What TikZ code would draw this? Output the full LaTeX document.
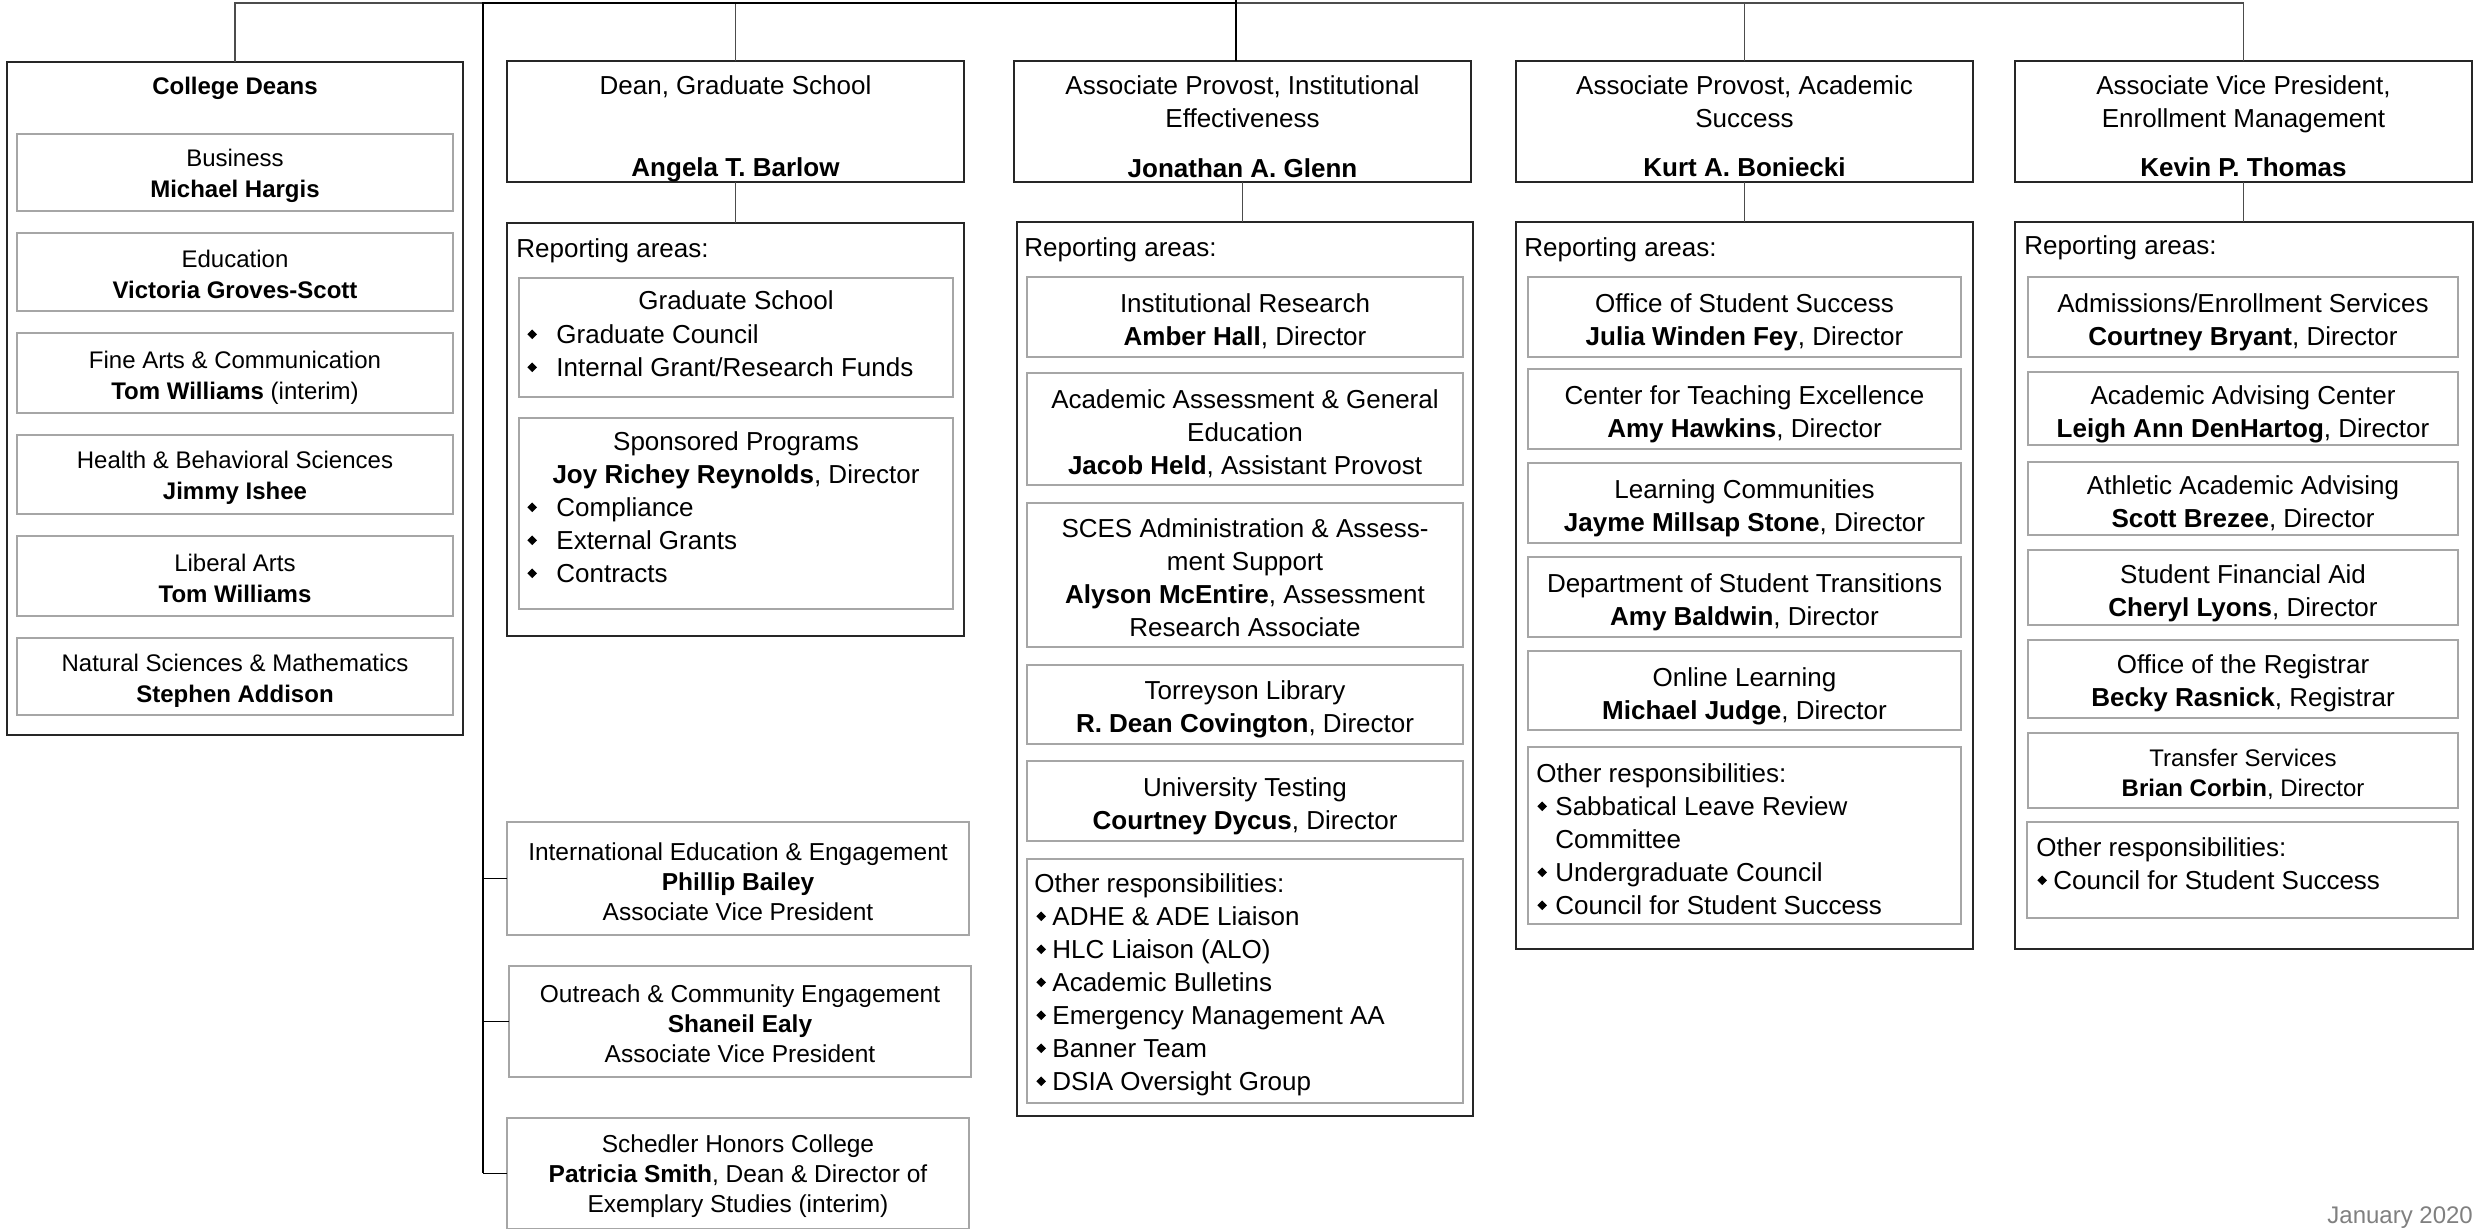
\documentclass[tikz,border=0pt]{standalone}
\usepackage{fontspec}
\usepackage{graphicx}
\setmainfont{Liberation Sans}
\newcommand\fsA{\fontsize{13}{16.5}\selectfont}
\newcommand\fsB{\fontsize{12.25}{15}\selectfont}
\newcommand\fsC{\fontsize{12}{15.5}\selectfont}
\newcommand\fsT{\fontsize{12}{15}\selectfont}
\newcommand\dbul{\raisebox{2.3pt}{\rotatebox{45}{\rule{3.4pt}{3.4pt}}}}
\newcommand\bltab[1]{\makebox[#1][l]{\dbul}}
\newcommand\bx[6]{\node[#1, minimum width={(#5-#3)*0.5pt}, minimum height={(#6-#4)*0.5pt}] (#2) at ({(#3+#5)/2},{(#4+#6)/2}) {};}
\newcommand\tc[5][]{\node[tcen,#1] (#2) at (#3,#4) {\strut #5};}
\newcommand\tlft[5][]{\node[tleft,#1] (#2) at (#3,#4) {\strut #5};}
\tikzset{
 obox/.style={draw=black!85, line width=0.65pt, inner sep=0pt, outer sep=0pt},
 ibox/.style={draw=black!35, line width=0.65pt, inner sep=0pt, outer sep=0pt},
 conn/.style={draw=black!70, line width=0.65pt},
 rootln/.style={draw=black, line width=0.75pt},
 tcen/.style={anchor=north, align=center, inner sep=0pt, font=\fsA},
 tleft/.style={anchor=north west, align=left, inner sep=0pt, font=\fsA},
}
\begin{document}
\begin{tikzpicture}[x=0.5pt,y=-0.5pt]
\path[fill=white] (0,0) rectangle (2492,1230);
\useasboundingbox (0,0) rectangle (2492,1230);

% ---------- College Deans ----------
\bx{obox}{CD}{7}{62}{463}{735}
\tc[font=\fsC]{CDt}{235}{72.9}{\textbf{College Deans}}
\bx{ibox}{CD1}{17}{134}{453}{211}
\tc[font=\fsC]{CD1t}{235}{144.9}{Business\\\textbf{Michael Hargis}}
\bx{ibox}{CD2}{17}{233}{453}{311}
\tc[font=\fsC]{CD2t}{235}{244.9}{Education\\\textbf{Victoria Groves-Scott}}
\bx{ibox}{CD3}{17}{333}{453}{413}
\tc[font=\fsC]{CD3t}{235}{345.9}{Fine Arts \& Communication\\\textbf{Tom Williams} (interim)}
\bx{ibox}{CD4}{17}{435}{453}{514}
\tc[font=\fsC]{CD4t}{235}{445.9}{Health \& Behavioral Sciences\\\textbf{Jimmy Ishee}}
\bx{ibox}{CD5}{17}{536}{453}{616}
\tc[font=\fsC]{CD5t}{235}{548.9}{Liberal Arts\\\textbf{Tom Williams}}
\bx{ibox}{CD6}{17}{638}{453}{715}
\tc[font=\fsC]{CD6t}{235}{649.4}{Natural Sciences \& Mathematics\\\textbf{Stephen Addison}}

% ---------- Dean, Graduate School ----------
\bx{obox}{DG}{507}{61}{964}{182}
\tc{DGt}{735.5}{71.2}{Dean, Graduate School\\[24.5pt]\textbf{Angela T. Barlow}}
\bx{obox}{DGR}{507}{223}{964}{636}
\tlft{DGRt}{516}{234.2}{Reporting areas:}
\bx{ibox}{DG1}{519}{278}{953}{397}
\tc{DG1t}{736}{286.2}{Graduate School}
\tlft{DG1b}{527}{320.2}{\bltab{14.5pt}Graduate Council\\\bltab{14.5pt}Internal Grant/Research Funds}
\bx{ibox}{DG2}{519}{418}{953}{609}
\tc{DG2t}{736}{427.2}{Sponsored Programs\\\textbf{Joy Richey Reynolds}, Director}
\tlft{DG2b}{527}{493.2}{\bltab{14.5pt}Compliance\\\bltab{14.5pt}External Grants\\\bltab{14.5pt}Contracts}

% ---------- Institutional Effectiveness ----------
\bx{obox}{IE}{1014}{61}{1471}{182}
\tc{IEt}{1242.5}{71.2}{Associate Provost, Institutional\\Effectiveness\\[8.5pt]\textbf{Jonathan A. Glenn}}
\bx{obox}{IER}{1017}{222}{1473}{1116}
\tlft{IERt}{1024}{233.2}{Reporting areas:}
\bx{ibox}{IE1}{1027}{277}{1463}{357}
\tc{IE1t}{1245}{289.2}{Institutional Research\\\textbf{Amber Hall}, Director}
\bx{ibox}{IE2}{1027}{373}{1463}{485}
\tc{IE2t}{1245}{385.2}{Academic Assessment \& General\\Education\\\textbf{Jacob Held}, Assistant Provost}
\bx{ibox}{IE3}{1027}{503}{1463}{647}
\tc{IE3t}{1245}{514.2}{SCES Administration \& Assess-\\ment Support\\\textbf{Alyson McEntire}, Assessment\\Research Associate}
\bx{ibox}{IE4}{1027}{665}{1463}{744}
\tc{IE4t}{1245}{676.2}{Torreyson Library\\\textbf{R. Dean Covington}, Director}
\bx{ibox}{IE5}{1027}{761}{1463}{841}
\tc{IE5t}{1245}{773.2}{University Testing\\\textbf{Courtney Dycus}, Director}
\bx{ibox}{IE6}{1027}{859}{1463}{1103}
\tlft{IE6t}{1034}{869.2}{Other responsibilities:\\
\hspace{1pt}\bltab{8pt}ADHE \& ADE Liaison\\
\hspace{1pt}\bltab{8pt}HLC Liaison (ALO)\\
\hspace{1pt}\bltab{8pt}Academic Bulletins\\
\hspace{1pt}\bltab{8pt}Emergency Management AA\\
\hspace{1pt}\bltab{8pt}Banner Team\\
\hspace{1pt}\bltab{8pt}DSIA Oversight Group}

% ---------- Academic Success ----------
\bx{obox}{AS}{1516}{61}{1973}{182}
\tc{ASt}{1744.5}{70.7}{Associate Provost, Academic\\Success\\[8pt]\textbf{Kurt A. Boniecki}}
\bx{obox}{ASR}{1516}{222}{1973}{949}
\tlft{ASRt}{1524}{233.2}{Reporting areas:}
\bx{ibox}{AS1}{1528}{277}{1961}{357}
\tc{AS1t}{1744.5}{289.2}{Office of Student Success\\\textbf{Julia Winden Fey}, Director}
\bx{ibox}{AS2}{1528}{369}{1961}{449}
\tc{AS2t}{1744.5}{381.2}{Center for Teaching Excellence\\\textbf{Amy Hawkins}, Director}
\bx{ibox}{AS3}{1528}{463}{1961}{543}
\tc{AS3t}{1744.5}{475.2}{Learning Communities\\\textbf{Jayme Millsap Stone}, Director}
\bx{ibox}{AS4}{1528}{557}{1961}{637}
\tc{AS4t}{1744.5}{569.2}{Department of Student Transitions\\\textbf{Amy Baldwin}, Director}
\bx{ibox}{AS5}{1528}{651}{1961}{730}
\tc{AS5t}{1744.5}{663.2}{Online Learning\\\textbf{Michael Judge}, Director}
\bx{ibox}{AS6}{1528}{747}{1961}{924}
\tlft{AS6t}{1536}{759.2}{Other responsibilities:\\
\hspace{0.5pt}\bltab{9pt}Sabbatical Leave Review\\
\hspace{9.5pt}Committee\\
\hspace{0.5pt}\bltab{9pt}Undergraduate Council\\
\hspace{0.5pt}\bltab{9pt}Council for Student Success}

% ---------- Enrollment Management ----------
\bx{obox}{EM}{2015}{61}{2472}{182}
\tc{EMt}{2243.5}{70.7}{Associate Vice President,\\Enrollment Management\\[8pt]\textbf{Kevin P. Thomas}}
\bx{obox}{EMR}{2015}{222}{2473}{949}
\tlft{EMRt}{2024}{231.2}{Reporting areas:}
\bx{ibox}{EM1}{2028}{277}{2458}{357}
\tc{EM1t}{2243}{289.2}{Admissions/Enrollment Services\\\textbf{Courtney Bryant}, Director}
\bx{ibox}{EM2}{2028}{372}{2458}{445}
\tc{EM2t}{2243}{381.2}{Academic Advising Center\\\textbf{Leigh Ann DenHartog}, Director}
\bx{ibox}{EM3}{2028}{462}{2458}{535}
\tc{EM3t}{2243}{471.2}{Athletic Academic Advising\\\textbf{Scott Brezee}, Director}
\bx{ibox}{EM4}{2028}{550}{2458}{625}
\tc{EM4t}{2243}{560.2}{Student Financial Aid\\\textbf{Cheryl Lyons}, Director}
\bx{ibox}{EM5}{2028}{640}{2458}{718}
\tc{EM5t}{2243}{650.2}{Office of the Registrar\\\textbf{Becky Rasnick}, Registrar}
\bx{ibox}{EM6}{2028}{733}{2458}{808}
\tc[font=\fsT]{EM6t}{2243}{744.6}{Transfer Services\\\textbf{Brian Corbin}, Director}
\bx{ibox}{EM7}{2027}{822}{2458}{918}
\tlft{EM7t}{2036}{833.2}{Other responsibilities:\\
\hspace{0.5pt}\bltab{8pt}Council for Student Success}

% ---------- Staff boxes ----------
\bx{ibox}{IEE}{507}{822}{969}{935}
\tc[font=\fsB]{IEEt}{738}{838.8}{International Education \& Engagement\\\textbf{Phillip Bailey}\\Associate Vice President}
\bx{ibox}{OCE}{509}{966}{971}{1077}
\tc[font=\fsB]{OCEt}{740}{980.8}{Outreach \& Community Engagement\\\textbf{Shaneil Ealy}\\Associate Vice President}
\bx{ibox}{SHC}{507}{1118}{969}{1228.5}
\tc[font=\fsB]{SHCt}{738}{1130.8}{Schedler Honors College\\\textbf{Patricia Smith}, Dean \& Director of\\Exemplary Studies (interim)}

% ---------- date ----------
\node[anchor=base west, font=\fsC, text=black!50, inner sep=0pt] (date) at (2327,1223) {January 2020};

% ---------- connectors ----------
\coordinate (root) at (1236,0);
\coordinate (bus) at (1236,3);
\coordinate (stf) at (483,3);
\draw[conn] (CD.north) |- (stf);
\draw[conn] (bus) -| (EM.north);
\draw[conn] (DG.north) -- (DG.north |- bus);
\draw[conn] (AS.north) -- (AS.north |- bus);
\draw[rootln] (root) -- (root |- IE.north);
\draw[rootln] (bus) -- (stf) -- (stf |- SHC.west);
\draw[conn] (DG.south) -- (DG.south |- DGR.north);
\draw[conn] (IE.south) -- (IE.south |- IER.north);
\draw[conn] (AS.south) -- (AS.south |- ASR.north);
\draw[conn] (EM.south) -- (EM.south |- EMR.north);
\draw[rootln] (IEE.west) -- (IEE.west -| stf);
\draw[rootln] (OCE.west) -- (OCE.west -| stf);
\draw[rootln] (SHC.west) -- (SHC.west -| stf);
\end{tikzpicture}
\end{document}
